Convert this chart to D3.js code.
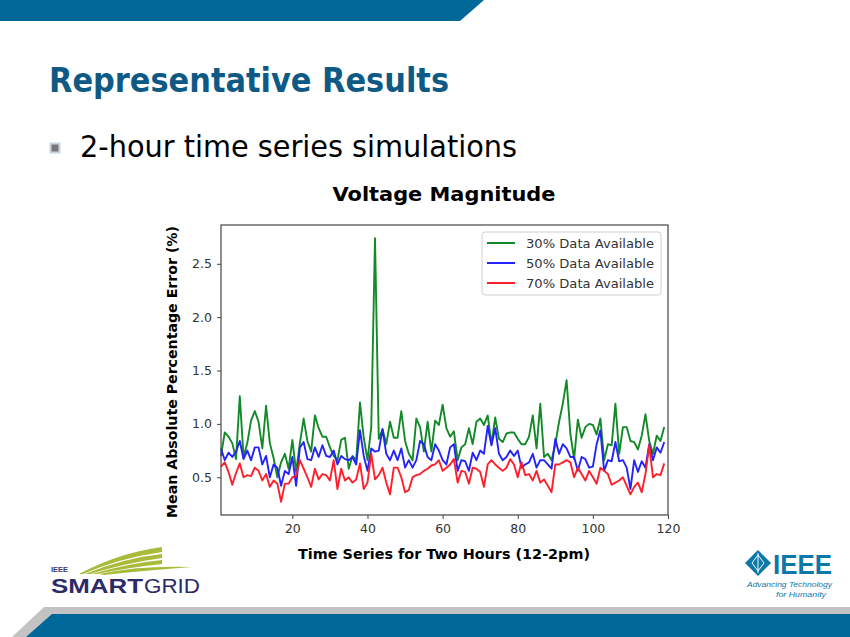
<!DOCTYPE html>
<html>
<head>
<meta charset="utf-8">
<script src="https://cdn.jsdelivr.net/npm/d3@7"></script>
<style>
  html, body { margin: 0; padding: 0; background: #fff; }
  svg { display: block; }
</style>
</head>
<body>
<svg id="slide" width="850" height="637"></svg>
<script>
// =========================
// DADES
// =========================

const seriesLabels = ["30% Data Available", "50% Data Available", "70% Data Available"];

const xTicks = [20, 40, 60, 80, 100, 120];
const yTicks = [0.5, 1.0, 1.5, 2.0, 2.5];

// MAPE per time step (1..119)
const green30 = [
  0.70, 0.92, 0.88, 0.82, 0.67, 1.26, 0.69, 0.82, 1.03, 1.12,
  1.02, 0.77, 1.17, 0.82, 0.68, 0.50, 0.64, 0.72, 0.58, 0.85,
  0.55, 0.82, 1.05, 0.84, 0.74, 1.08, 0.96, 0.88, 0.88, 0.78,
  0.70, 0.66, 0.85, 0.87, 0.58, 0.70, 0.66, 1.20, 0.87, 0.66,
  0.97, 2.74, 0.86, 0.95, 0.81, 1.02, 0.87, 0.87, 1.12, 0.84,
  0.72, 0.66, 1.05, 0.97, 0.74, 1.02, 0.74, 1.03, 0.99, 1.18,
  0.96, 0.88, 0.93, 0.66, 0.78, 0.81, 0.96, 0.81, 1.02, 1.05,
  0.99, 1.08, 0.81, 1.06, 0.86, 0.83, 0.91, 0.92, 0.92, 0.86,
  0.81, 0.81, 0.88, 1.08, 0.77, 1.19, 0.69, 0.72, 0.66, 0.81,
  1.02, 1.19, 1.41, 0.91, 0.67, 1.04, 0.87, 0.97, 1.00, 0.99,
  0.90, 1.05, 0.66, 0.81, 0.80, 1.19, 0.72, 0.97, 0.97, 0.84,
  0.83, 0.76, 0.89, 1.09, 0.84, 0.72, 0.89, 0.84, 0.97
];

const blue50 = [
  0.77, 0.66, 0.73, 0.69, 0.74, 0.84, 0.67, 0.75, 0.66, 0.78,
  0.78, 0.62, 0.70, 0.50, 0.62, 0.59, 0.42, 0.56, 0.53, 0.69,
  0.42, 0.78, 0.83, 0.67, 0.66, 0.78, 0.69, 0.80, 0.70, 0.69,
  0.75, 0.62, 0.70, 0.67, 0.66, 0.69, 0.62, 0.94, 0.70, 0.56,
  0.77, 0.74, 0.75, 0.95, 0.72, 0.66, 0.75, 0.66, 0.77, 0.59,
  0.66, 0.59, 0.66, 0.84, 0.81, 0.69, 0.66, 0.81, 0.75, 0.66,
  0.62, 0.78, 0.81, 0.56, 0.66, 0.65, 0.56, 0.73, 0.66, 0.75,
  0.72, 0.98, 0.80, 0.96, 0.72, 0.66, 0.69, 0.75, 0.70, 0.75,
  0.59, 0.62, 0.64, 0.72, 0.59, 0.66, 0.66, 0.62, 0.58, 0.86,
  0.72, 0.81, 0.77, 0.69, 0.69, 0.56, 0.69, 0.67, 0.59, 0.60,
  0.81, 0.94, 0.56, 0.66, 0.65, 0.83, 0.65, 0.66, 0.59, 0.39,
  0.66, 0.55, 0.65, 0.59, 0.81, 0.66, 0.78, 0.73, 0.83
];

const red70 = [
  0.60, 0.64, 0.55, 0.43, 0.54, 0.63, 0.50, 0.52, 0.51, 0.59,
  0.56, 0.47, 0.53, 0.41, 0.47, 0.44, 0.27, 0.44, 0.44, 0.50,
  0.51, 0.66, 0.58, 0.50, 0.41, 0.58, 0.48, 0.53, 0.52, 0.47,
  0.66, 0.39, 0.58, 0.47, 0.50, 0.45, 0.48, 0.63, 0.39, 0.45,
  0.72, 0.48, 0.52, 0.59, 0.45, 0.34, 0.59, 0.59, 0.50, 0.36,
  0.38, 0.50, 0.52, 0.53, 0.56, 0.58, 0.61, 0.62, 0.66, 0.56,
  0.59, 0.62, 0.67, 0.45, 0.56, 0.55, 0.44, 0.59, 0.58, 0.55,
  0.41, 0.62, 0.66, 0.62, 0.59, 0.56, 0.59, 0.67, 0.62, 0.50,
  0.64, 0.52, 0.53, 0.47, 0.56, 0.45, 0.48, 0.42, 0.36, 0.62,
  0.62, 0.64, 0.66, 0.64, 0.50, 0.59, 0.53, 0.47, 0.56, 0.50,
  0.44, 0.59, 0.56, 0.53, 0.43, 0.45, 0.47, 0.50, 0.42, 0.34,
  0.41, 0.45, 0.36, 0.53, 0.80, 0.50, 0.53, 0.52, 0.63
];

const seriesColors = ["#138a28", "#2424f8", "#ff1f2a"];


// =========================
// DECORACIÓ DE LA DIAPOSITIVA
// =========================

function drawSlideFrame(svg) {
  // banda superior
  svg.append("path")
    .attr("d", "M0,0 L484,0 L460,21 L0,21 Z")
    .attr("fill", "#006898");

  // banda inferior (gris + blava)
  svg.append("path")
    .attr("d", "M44,607 L850,607 L850,637 L12,637 Z")
    .attr("fill", "#c3c3c3");
  svg.append("path")
    .attr("d", "M52,614 L850,614 L850,637 L26,637 Z")
    .attr("fill", "#006898");

  svg.append("text")
    .attr("x", 49)
    .attr("y", 92)
    .attr("textLength", 400)
    .attr("lengthAdjust", "spacingAndGlyphs")
    .text("Representative Results")
    .style("font-family", "'DejaVu Sans', Verdana, sans-serif")
    .style("font-size", "34px")
    .style("font-weight", "bold")
    .style("fill", "#0e5a85");

  // bullet
  svg.append("rect")
    .attr("x", 50.5)
    .attr("y", 143.5)
    .attr("width", 9)
    .attr("height", 9)
    .attr("fill", "#777")
    .attr("stroke", "#c8d4e0")
    .attr("stroke-width", 2);

  svg.append("text")
    .attr("x", 80)
    .attr("y", 157)
    .attr("textLength", 437)
    .attr("lengthAdjust", "spacingAndGlyphs")
    .text("2-hour time series simulations")
    .style("font-family", "'DejaVu Sans', Tahoma, sans-serif")
    .style("font-size", "30px")
    .style("fill", "#000");
}

function drawSmartGridLogo(svg) {
  const g = svg.append("g");

  const swooshes = [
    "M79,574 Q118,553 162,547 L162,552 Q120,558 83,574 Z",
    "M85,574 Q124,558 162,554 L162,558 Q126,563 90,574 Z",
    "M92,574 Q130,563 162,560 L162,564 Q132,567 97,574 Z",
    "M99,574 Q140,565 192,567 Q140,571 104,575 Z"
  ];
  g.selectAll("path.swoosh")
    .data(swooshes)
    .enter()
    .append("path")
    .attr("class", "swoosh")
    .attr("d", d => d)
    .attr("fill", "#a9bb3a");

  g.append("text")
    .attr("x", 51)
    .attr("y", 572)
    .text("IEEE")
    .style("font-family", "'Liberation Sans', Arial, sans-serif")
    .style("font-size", "7.5px")
    .style("font-weight", "bold")
    .style("fill", "#3a3670");

  g.append("text")
    .attr("x", 51)
    .attr("y", 593)
    .attr("textLength", 92)
    .attr("lengthAdjust", "spacingAndGlyphs")
    .text("SMART")
    .style("font-family", "'Liberation Sans', Arial, sans-serif")
    .style("font-size", "20px")
    .style("font-weight", "bold")
    .style("fill", "#2e2a68");

  g.append("text")
    .attr("x", 144)
    .attr("y", 593)
    .attr("textLength", 56)
    .attr("lengthAdjust", "spacingAndGlyphs")
    .text("GRID")
    .style("font-family", "'Liberation Sans', Arial, sans-serif")
    .style("font-size", "20px")
    .style("fill", "#2e2a68");
}

function drawIeeeLogo(svg) {
  const g = svg.append("g");
  const blue = "#0a78a8";

  g.append("path")
    .attr("d", "M758,550 L771,563 L758,576 L745,563 Z")
    .attr("fill", blue);
  g.append("path")
    .attr("d", "M758,555 L764,563 L758,571 L752,563 Z")
    .attr("fill", "none")
    .attr("stroke", "#fff")
    .attr("stroke-width", 1);
  g.append("line")
    .attr("x1", 758).attr("x2", 758)
    .attr("y1", 553).attr("y2", 573)
    .attr("stroke", "#fff")
    .attr("stroke-width", 1);

  g.append("text")
    .attr("x", 773)
    .attr("y", 574)
    .attr("textLength", 59)
    .attr("lengthAdjust", "spacingAndGlyphs")
    .text("IEEE")
    .style("font-family", "'Liberation Sans', Arial, sans-serif")
    .style("font-size", "27px")
    .style("font-weight", "bold")
    .style("fill", blue);

  g.append("text")
    .attr("x", 832)
    .attr("y", 587)
    .attr("text-anchor", "end")
    .attr("textLength", 85)
    .attr("lengthAdjust", "spacingAndGlyphs")
    .text("Advancing Technology")
    .style("font-family", "'Liberation Sans', Arial, sans-serif")
    .style("font-size", "7.5px")
    .style("font-style", "italic")
    .style("fill", blue);

  g.append("text")
    .attr("x", 826)
    .attr("y", 597)
    .attr("text-anchor", "end")
    .attr("textLength", 50)
    .attr("lengthAdjust", "spacingAndGlyphs")
    .text("for Humanity")
    .style("font-family", "'Liberation Sans', Arial, sans-serif")
    .style("font-size", "7.5px")
    .style("font-style", "italic")
    .style("fill", blue);
}


// =========================
// GRÀFIC
// =========================

function drawChart(svg) {
  const plot = { left: 221, right: 668, top: 225, bottom: 515 };
  const font = "'DejaVu Sans', Verdana, sans-serif";

  const series = [green30, blue50, red70].map((vals, i) => ({
    label: seriesLabels[i],
    color: seriesColors[i],
    values: vals.map((v, j) => ({ x: j + 1, y: v }))
  }));

  const all = series.flatMap(s => s.values.map(d => d.y));
  const [yMin, yMax] = d3.extent(all);
  const pad = (yMax - yMin) * 0.05;

  const x = d3.scaleLinear()
    .domain([1, 120])
    .range([plot.left, plot.right]);

  const y = d3.scaleLinear()
    .domain([yMin - pad, yMax + pad])
    .range([plot.bottom, plot.top]);

  const g = svg.append("g");

  // línies
  const line = d3.line()
    .x(d => x(d.x))
    .y(d => y(d.y));

  g.selectAll("path.series")
    .data(series)
    .enter()
    .append("path")
    .attr("class", "series")
    .attr("d", d => line(d.values))
    .attr("fill", "none")
    .attr("stroke", d => d.color)
    .attr("stroke-width", 1.9)
    .attr("stroke-linejoin", "round");

  // eixos
  const xAxis = g.append("g")
    .attr("transform", `translate(0,${plot.bottom})`)
    .call(d3.axisBottom(x).tickValues(xTicks).tickSize(4).tickPadding(5).tickFormat(d3.format("d")));

  const yAxis = g.append("g")
    .attr("transform", `translate(${plot.left},0)`)
    .call(d3.axisLeft(y).tickValues(yTicks).tickSize(4).tickPadding(5).tickFormat(d3.format(".1f")));

  [xAxis, yAxis].forEach(a => {
    a.select(".domain").remove();
    a.selectAll(".tick line").attr("stroke", "#444");
    a.selectAll(".tick text")
      .style("font-family", font)
      .style("font-size", "12.5px")
      .style("fill", "#333");
  });

  // marc
  g.append("rect")
    .attr("x", plot.left)
    .attr("y", plot.top)
    .attr("width", plot.right - plot.left)
    .attr("height", plot.bottom - plot.top)
    .attr("fill", "none")
    .attr("stroke", "#444")
    .attr("stroke-width", 1.2);

  // títols
  svg.append("text")
    .attr("x", 444)
    .attr("y", 201)
    .attr("text-anchor", "middle")
    .attr("textLength", 223)
    .attr("lengthAdjust", "spacingAndGlyphs")
    .text("Voltage Magnitude")
    .style("font-family", font)
    .style("font-size", "19px")
    .style("font-weight", "bold")
    .style("fill", "#000");

  svg.append("text")
    .attr("x", 444)
    .attr("y", 559)
    .attr("text-anchor", "middle")
    .attr("textLength", 292)
    .attr("lengthAdjust", "spacingAndGlyphs")
    .text("Time Series for Two Hours (12-2pm)")
    .style("font-family", font)
    .style("font-size", "14px")
    .style("font-weight", "bold")
    .style("fill", "#000");

  svg.append("text")
    .attr("transform", `translate(177,${(plot.top + plot.bottom) / 2 + 2}) rotate(-90)`)
    .attr("text-anchor", "middle")
    .attr("textLength", 292)
    .attr("lengthAdjust", "spacingAndGlyphs")
    .text("Mean Absolute Percentage Error (%)")
    .style("font-family", font)
    .style("font-size", "13.5px")
    .style("font-weight", "bold")
    .style("fill", "#000");

  // llegenda
  const legend = g.append("g")
    .attr("transform", "translate(482,232)");

  legend.append("rect")
    .attr("width", 179)
    .attr("height", 63)
    .attr("rx", 3)
    .attr("fill", "#fff")
    .attr("stroke", "#d0d0d0");

  const rows = legend.selectAll("g.row")
    .data(series)
    .enter()
    .append("g")
    .attr("class", "row")
    .attr("transform", (d, i) => `translate(0,${11 + i * 20})`);

  rows.append("line")
    .attr("x1", 5).attr("x2", 33)
    .attr("stroke", d => d.color)
    .attr("stroke-width", 2);

  rows.append("text")
    .attr("x", 44)
    .attr("y", 4.5)
    .attr("textLength", 128)
    .attr("lengthAdjust", "spacingAndGlyphs")
    .text(d => d.label)
    .style("font-family", font)
    .style("font-size", "13px")
    .style("fill", "#333");
}


// =========================
// FUNCIÓ PRINCIPAL
// =========================

const svg = d3.select("#slide");
drawSlideFrame(svg);
drawChart(svg);
drawSmartGridLogo(svg);
drawIeeeLogo(svg);
</script>
</body>
</html>
